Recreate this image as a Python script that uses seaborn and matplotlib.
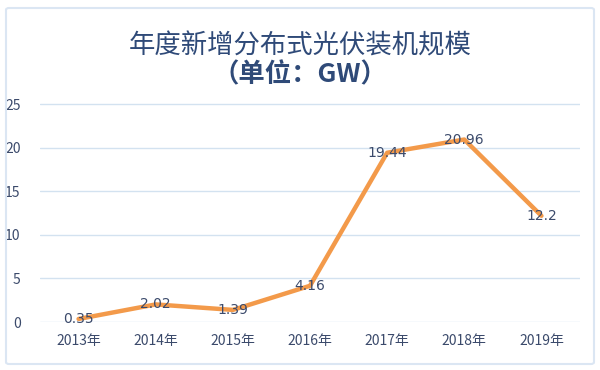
import pandas as pd
import seaborn as sns
import matplotlib.pyplot as plt
from matplotlib.patches import FancyBboxPatch

years = ["2013年", "2014年", "2015年", "2016年", "2017年", "2018年", "2019年"]
values = [0.35, 2.02, 1.39, 4.16, 19.44, 20.96, 12.2]
labels = ["0.35", "2.02", "1.39", "4.16", "19.44", "20.96", "12.2"]
yticks = [0, 5, 10, 15, 20, 25]

sns.set_style("white")
plt.rcParams['font.family'] = ['Noto Sans CJK SC', 'DejaVu Sans']

df = pd.DataFrame({"year": years, "value": values})

fig = plt.figure(figsize=(6, 3.7), dpi=100)
ax = fig.add_axes([40 / 600, 1 - 322 / 370, 540 / 600, (322 - 100) / 370])

# light blue frame around the chart
frame = FancyBboxPatch((6 / 600, 6 / 370), 588 / 600, 356 / 370,
                       boxstyle="round,pad=0,rounding_size=0.005",
                       transform=fig.transFigure, fill=False,
                       edgecolor="#dbe6f3", linewidth=1.5)
fig.patches.append(frame)

sns.lineplot(data=df, x="year", y="value", ax=ax, color="#f39a4a",
             linewidth=3.2, sort=False)

text_color = "#3b4a6b"
for i, (v, lab) in enumerate(zip(values, labels)):
    ax.text(i, v, lab, ha="center", va="center", fontsize=10,
            color=text_color, family=["DejaVu Sans"])

ax.set_xlim(-0.5, len(years) - 0.5)
ax.set_ylim(0, 25.5)
ax.set_yticks(yticks)
ax.yaxis.grid(True, color="#d3e2f0", linewidth=1)
ax.set_axisbelow(True)
for s in ax.spines.values():
    s.set_visible(False)
ax.set_xlabel("")
ax.set_ylabel("")
ax.tick_params(axis="both", length=0, labelsize=10, colors=text_color)
ax.tick_params(axis="x", pad=9)
ax.tick_params(axis="y", pad=14)

fig.text(0.5, 1 - 46 / 370, "年度新增分布式光伏装机规模", ha="center", va="center",
         fontsize=19, color="#2f4a78")
fig.text(0.5, 1 - 75 / 370, "（单位：GW）", ha="center", va="center",
         fontsize=19, color="#2f4a78", fontweight="bold")

fig.savefig("out.png", dpi=100, facecolor="white")
